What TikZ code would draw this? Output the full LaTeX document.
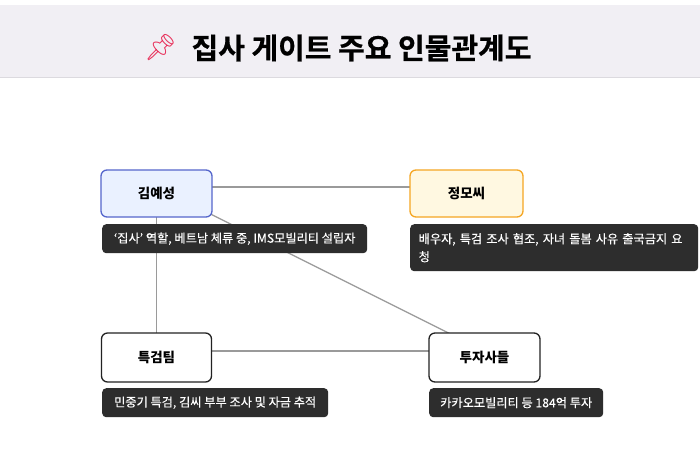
\documentclass[tikz,border=0pt]{standalone}
\usepackage{fontspec}
\setmainfont{Noto Sans CJK KR}
\newfontfamily\emojifont{Noto Emoji}
\newfontfamily\medfont[FakeBold=0.35]{Noto Sans CJK KR}
\newfontfamily\heavyfont[FakeBold=0.6]{Noto Sans CJK KR Bold}
\definecolor{hdr}{HTML}{F1EFF4}
\definecolor{hdrline}{HTML}{DCDADF}
\definecolor{blueb}{HTML}{5566CC}
\definecolor{bluef}{HTML}{EAF1FF}
\definecolor{orab}{HTML}{F5A623}
\definecolor{oraf}{HTML}{FFF8E1}
\definecolor{darkb}{HTML}{222222}
\definecolor{tipf}{HTML}{2D2D2D}
\definecolor{edgec}{HTML}{9A9A9A}
\definecolor{pinc}{HTML}{E8305A}
\tikzset{
  person/.style={draw=darkb, fill=white, line width=1.3pt, rounded corners=6pt,
    minimum width=110pt, minimum height=47pt, inner sep=0pt,
    font=\fontsize{13.5}{16}\selectfont\bfseries},
  tip/.style={anchor=north west, fill=tipf, rounded corners=4pt, text=white,
    inner xsep=8.5pt, inner ysep=0pt, align=left,
    font=\medfont\fontsize{12.2}{18}\selectfont},
  rel/.style={draw=edgec, line width=1.2pt}
}
\begin{document}
\begin{tikzpicture}[x=1pt,y=-1pt]
\useasboundingbox (0,0) rectangle (700,472);
\fill[white] (0,0) rectangle (700,472);
\fill[hdr] (0,5) rectangle (700,77);
\draw[hdrline, line width=0.8pt] (0,77) -- (700,77);
\node[font=\heavyfont\fontsize{29}{32}\selectfont, inner sep=0pt] (title) at (361.5,48)
  {집사 게이트 주요 인물관계도};
\node[font=\emojifont\fontsize{26}{30}\selectfont, text=pinc, inner sep=0pt, anchor=east] (pin) at ([xshift=-14pt]title.west) {📌};

% anchor coordinates for connectors
\coordinate (ca) at (156.5,187);
\coordinate (cb) at (466.5,187);
\coordinate (cc) at (156.5,351);
\coordinate (cd) at (484.5,351);

\draw[rel] (ca) -- (cb);
\draw[rel] (ca) -- (cc);
\draw[rel] (ca) -- (cd);
\draw[rel] (cc) -- (cd);

\node[person, draw=blueb, fill=bluef, minimum width=111pt] (a) at (156.5,193.5) {김예성};
\node[person, draw=orab, fill=oraf, minimum width=113pt] (b) at (466.5,193.5) {정모씨};
\node[person, minimum width=110pt, minimum height=49pt] (c) at (156.5,357.5) {특검팀};
\node[person, minimum width=111pt, minimum height=49pt] (d) at (484.5,357.5) {투자사들};

\node[tip, minimum width=265pt, minimum height=29pt] (la) at (102,224) {‘집사’ 역할, 베트남 체류 중, IMS모빌리티 설립자};
\node[tip, minimum width=288pt, minimum height=47pt, text width=271pt] (lb) at (410,224) {배우자, 특검 조사 협조, 자녀 돌봄 사유 출국금지 요\\청};
\node[tip, minimum width=226pt, minimum height=29pt] (lc) at (102,388) {민중기 특검, 김씨 부부 조사 및 자금 추적};
\node[tip, minimum width=174pt, minimum height=29pt] (ld) at (429,388) {카카오모빌리티 등 184억 투자};
\end{tikzpicture}
\end{document}
